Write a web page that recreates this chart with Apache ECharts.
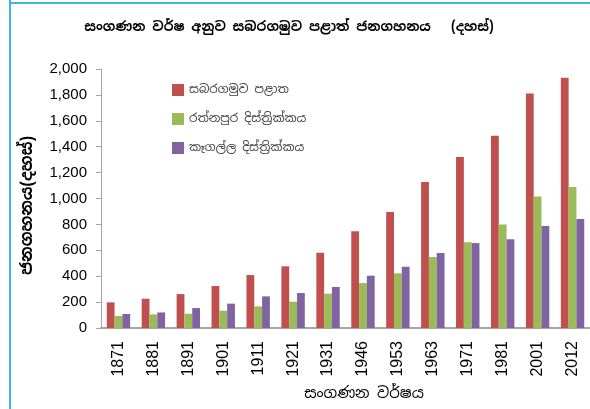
<!DOCTYPE html>
<html>
<head>
<meta charset="utf-8">
<script src="https://cdn.jsdelivr.net/npm/echarts@6/dist/echarts.min.js"></script>
<style>
html,body{margin:0;padding:0;background:#fff;}
#chart{width:590px;height:409px;}
</style>
</head>
<body>
<div id="chart"></div>
<script>
const years = ['1871','1881','1891','1901','1911','1921','1931','1946','1953','1963','1971','1981','2001','2012'];
const sabaragamuwa = [198, 226, 262, 324, 409, 476, 581, 747, 896, 1127, 1320, 1485, 1811, 1932];
const ratnapura = [93, 105, 110, 134, 167, 203, 265, 347, 422, 548, 662, 799, 1015, 1089];
const kegalle = [108, 120, 154, 188, 244, 270, 317, 404, 473, 579, 656, 685, 788, 841];
const seriesNames = ['සබරගමුව පළාත', 'රත්නපුර දිස්ත්‍රික්කය', 'කෑගල්ල දිස්ත්‍රික්කය'];
const titleText = 'සංගණන වර්ෂ අනුව සබරගමුව පළාත් ජනගහනය   (දහස්)';
const yName = 'ජනගහනය(දහස්)';
const xName = 'සංගණන වර්ෂය';

const sinFont = "'Noto Sans Sinhala','Noto Serif Sinhala','Iskoola Pota','Noto Sans',sans-serif";
const numFont = "'Liberation Sans','DejaVu Sans',sans-serif";

const chart = echarts.init(document.getElementById('chart'), null, {renderer:'canvas'});
chart.setOption({
  animation: false,
  backgroundColor: '#ffffff',
  title: {
    text: titleText,
    left: 284, top: 15, textAlign: 'center',
    textStyle: {fontFamily: sinFont, fontSize: 13.5, fontWeight: 'bold', color: '#000'}
  },
  graphic: [
    {type:'line', shape:{x1:10, y1:0, x2:10, y2:409}, style:{stroke:'#3DB7E4', lineWidth:2}},
    {type:'line', shape:{x1:9, y1:3, x2:590, y2:3}, style:{stroke:'#3DB7E4', lineWidth:2}}
  ],
  legend: {
    orient: 'vertical', left: 167, top: 78,
    itemWidth: 12, itemHeight: 12, itemGap: 15,
    icon: 'rect',
    textStyle: {fontFamily: sinFont, fontSize: 12, color: '#404040', lineHeight: 14},
    data: seriesNames
  },
  grid: {left: 101, right: 0, top: 69, bottom: 81},
  xAxis: {
    type: 'category', data: years,
    name: xName, nameLocation: 'middle', nameGap: 58,
    nameTextStyle: {fontFamily: sinFont, fontSize: 15, color: '#000', padding: [0,0,0,37]},
    axisLine: {lineStyle: {color: '#A6A6A6', width: 2}},
    axisTick: {show: false},
    axisLabel: {rotate: 90, margin: 13, fontFamily: numFont, fontSize: 16, color: '#000'}
  },
  yAxis: {
    type: 'value', min: 0, max: 2000, interval: 200,
    name: yName, nameLocation: 'middle', nameGap: 65, nameRotate: 90,
    nameTextStyle: {fontFamily: sinFont, fontSize: 16, fontWeight: 'bold', color: '#000', padding: [0,14,0,0]},
    axisLine: {show: true, lineStyle: {color: '#A6A6A6', width: 1}},
    axisTick: {show: true, length: 5, lineStyle: {color: '#A6A6A6'}},
    splitLine: {show: false},
    axisLabel: {margin: 14, fontFamily: numFont, fontSize: 15, color: '#000',
      formatter: v => v.toLocaleString('en-US')}
  },
  series: [
    {name: seriesNames[0], type: 'bar', data: sabaragamuwa, barGap: '0%', barCategoryGap: '33%',
     itemStyle: {color: '#C0504D'}},
    {name: seriesNames[1], type: 'bar', data: ratnapura, barGap: '0%', barCategoryGap: '33%',
     itemStyle: {color: '#9BBB59'}},
    {name: seriesNames[2], type: 'bar', data: kegalle, barGap: '0%', barCategoryGap: '33%',
     itemStyle: {color: '#8064A2'}}
  ]
});
</script>
</body>
</html>
